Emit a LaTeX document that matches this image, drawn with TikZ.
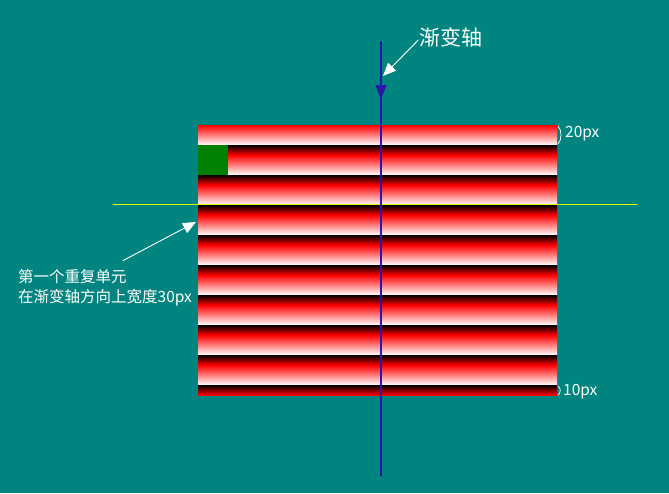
\documentclass[tikz,border=0pt]{standalone}
\usepackage{fontspec}
\setmainfont{Noto Sans CJK SC}
\usetikzlibrary{arrows.meta}
\definecolor{bgteal}{RGB}{0,132,128}
\definecolor{axisblue}{RGB}{45,20,170}
\definecolor{midline}{RGB}{225,255,0}
\begin{document}
\begin{tikzpicture}[line join = round, line cap = round,>=stealth,x=1pt,y=-1pt]
			\tikzset{
				pointer/.style={white,line width=0.9pt,-{Triangle[width=11pt,length=13pt]}},
				label/.style={white,inner sep=1pt,font=\fontsize{15.5}{17}\selectfont},
				Dai-mau/.pic={
					\def\w{359}
					\shade[top color=black,bottom color=red](0,0)rectangle(\w,10);
					\shade[top color=red,bottom color=white](0,10)rectangle(\w,30);
				}}
			\fill[bgteal](0,0)rectangle(669,493);
			\useasboundingbox(0,0)rectangle(669,493);
			% first band, then the repeating units
			\shade[top color=red,bottom color=white](198,125)rectangle(557,145);
			\foreach \y in{145,175,...,355}
			\path(198,\y)pic{Dai-mau};
			\shade[top color=black,bottom color=red](198,385)rectangle(557,395);
			\fill[green!50!black](198,145)rectangle(228,175);
			\draw[midline,line width=1pt](113,204.5)--(637,204.5);
			\coordinate (axtop) at (381,42);
			\coordinate (axtip) at (381,99);
			\coordinate (axend) at (381,476);
			\draw[axisblue,line width=1.2pt](axtop)--(axend);
			\draw[axisblue,line width=1.2pt,-{Triangle[width=11pt,length=14pt]}](axtop)--(axtip);
			\node[white,inner sep=1pt,font=\fontsize{21}{23}\selectfont] (axname) at (451,37) {渐变轴};
			\coordinate (axpoint) at (383,76);
			\draw[pointer]([yshift=-3pt]axname.west)--(axpoint);
			\node[label,anchor=west] (unitA) at (17,277) {第一个重复单元};
			\node[label,anchor=west] (unitB) at (17,298) {在渐变轴方向上宽度30px};
			\coordinate (unitpoint) at (196,222);
			\draw[pointer]([xshift=-5pt,yshift=8pt]unitA.north east)--(unitpoint);
			% brackets on the right
			\draw[white,line width=0.7pt](558,126)..controls(562,130)and(562,140)..(558,144);
			\node[label,anchor=west] (big) at (564,134) {20px};
			\draw[white,line width=0.7pt](558,386)..controls(561,388)and(561,393)..(558,395);
			\node[label,anchor=west] (small) at (562,392) {10px};
		\end{tikzpicture}
\end{document}
